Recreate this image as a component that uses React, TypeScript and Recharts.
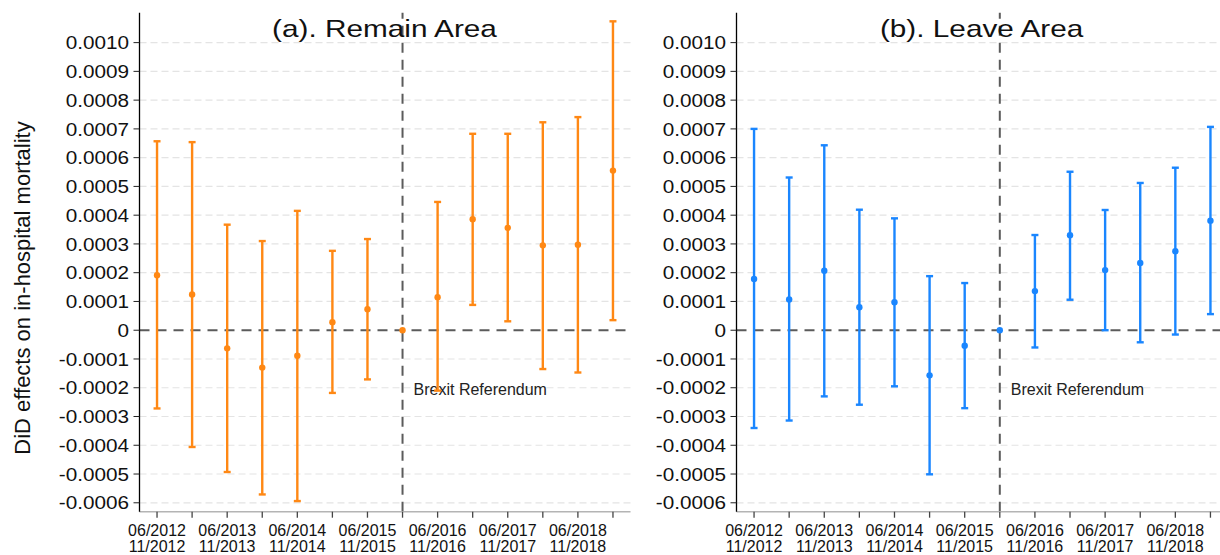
import type { ReactElement } from 'react'
import {
  ErrorBar,
  ReferenceLine,
  Scatter,
  ScatterChart,
  XAxis,
  YAxis,
} from 'recharts'

// period slots along the x axis (slot 8 is the referendum reference)
const POSITIONS = [1, 2, 3, 4, 5, 6, 7, 8, 9, 10, 11, 12, 13, 14]
const REFERENDUM_SLOT = 8

const TICK_TOP = ['06/2012', '', '06/2013', '', '06/2014', '', '06/2015', '', '06/2016', '', '06/2017', '', '06/2018', '']
const TICK_BOTTOM = ['11/2012', '', '11/2013', '', '11/2014', '', '11/2015', '', '11/2016', '', '11/2017', '', '11/2018', '']

const Y_DOMAIN: [number, number] = [-0.000631, 0.001104]
const Y_TICKS = [
  -0.0006, -0.0005, -0.0004, -0.0003, -0.0002, -0.0001, 0, 0.0001, 0.0002, 0.0003,
  0.0004, 0.0005, 0.0006, 0.0007, 0.0008, 0.0009, 0.001,
]

// (a) Remain area
const REMAIN_EST = [0.000191, 0.000124, -0.000063, -0.00013, -0.000089, 0.000028, 0.000073, 0, 0.000115, 0.000386, 0.000356, 0.000295, 0.000297, 0.000555]
const REMAIN_LO = [-0.000272, -0.000406, -0.000493, -0.000571, -0.000594, -0.000218, -0.000171, null, -0.00021, 0.000088, 0.000031, -0.000135, -0.000147, 0.000035]
const REMAIN_HI = [0.000657, 0.000654, 0.000367, 0.00031, 0.000415, 0.000276, 0.000317, null, 0.000446, 0.000683, 0.000683, 0.000723, 0.000741, 0.001074]

// (b) Leave area
const LEAVE_EST = [0.000178, 0.000107, 0.000207, 0.00008, 0.000097, -0.000157, -0.000054, 0, 0.000136, 0.00033, 0.000209, 0.000234, 0.000275, 0.000381]
const LEAVE_LO = [-0.00034, -0.000314, -0.00023, -0.000259, -0.000195, -0.000501, -0.000271, null, -0.00006, 0.000106, 0, -0.000042, -0.000015, 0.000056]
const LEAVE_HI = [0.0007, 0.000531, 0.000643, 0.000419, 0.000389, 0.000188, 0.000164, null, 0.000331, 0.000551, 0.000418, 0.000512, 0.000565, 0.000707]

const FONT = '"Liberation Sans", Arial, sans-serif'
const REF_GRAY = '#5b5b5b'

type Row = { x: number; y: number; err: [number, number] | null }

function buildRows(est: number[], lo: (number | null)[], hi: (number | null)[]): Row[] {
  return POSITIONS.map((x, i) => {
    const low = lo[i]
    const high = hi[i]
    return {
      x,
      y: est[i],
      err: low == null || high == null ? null : [est[i] - low, high - est[i]],
    }
  })
}

function formatY(value: number): string {
  return value === 0 ? '0' : value.toFixed(4)
}

function YTick(props: any) {
  const { x, y, payload } = props
  return (
    <g transform={`translate(${x},${y})`}>
      <text
        transform="scale(1.12,1)"
        textAnchor="end"
        dy="0.36em"
        fontSize={18.5}
        fill="#111"
        fontFamily={FONT}
      >
        {formatY(payload.value)}
      </text>
    </g>
  )
}

function XTick(props: any) {
  const { x, y, payload } = props
  const index = POSITIONS.indexOf(payload.value)
  if (index < 0 || !TICK_TOP[index]) return <g />
  return (
    <g>
      <text x={x} y={y + 16.7} textAnchor="middle" fontSize={16} fill="#111" fontFamily={FONT}>
        {TICK_TOP[index]}
      </text>
      <text x={x} y={y + 32.7} textAnchor="middle" fontSize={16} fill="#111" fontFamily={FONT}>
        {TICK_BOTTOM[index]}
      </text>
    </g>
  )
}

function brexitLabel(props: any): ReactElement {
  const vb = props.viewBox ?? { x: 0, y: 0 }
  return (
    <text x={vb.x + 11} y={vb.y + 382.3} fontSize={16} fill="#222" fontFamily={FONT}>
      Brexit Referendum
    </text>
  )
}

interface PanelProps {
  rows: Row[]
  color: string
  left: number
  axisWidth: number
  rightMargin: number
}

function Panel({ rows, color, left, axisWidth, rightMargin }: PanelProps) {
  const ciRows = rows.filter((row) => row.err !== null)
  return (
    <div style={{ position: 'absolute', left, top: 0 }}>
      <ScatterChart
        width={640}
        height={555}
        margin={{ top: 12.7, right: rightMargin, bottom: 0, left: 0 }}
      >
        <XAxis
          type="number"
          dataKey="x"
          domain={[0.5, 14.5]}
          ticks={POSITIONS}
          interval={0}
          height={43.3}
          tickSize={6}
          tickMargin={2}
          axisLine={{ stroke: '#b4b4b4', strokeWidth: 1.4 }}
          tickLine={{ stroke: '#444', strokeWidth: 1.3 }}
          tick={<XTick />}
        />
        <YAxis
          type="number"
          dataKey="y"
          domain={Y_DOMAIN}
          allowDataOverflow
          ticks={Y_TICKS}
          interval={0}
          width={axisWidth}
          tickSize={6}
          tickMargin={4.5}
          axisLine={{ stroke: '#000', strokeWidth: 1.3 }}
          tickLine={{ stroke: '#222', strokeWidth: 1 }}
          tick={<YTick />}
        />
        {/* light dashed gridlines on the labelled ticks */}
        {Y_TICKS.filter((t) => t !== 0).map((t) => (
          <ReferenceLine
            key={t}
            y={t}
            stroke="#e4e4e4"
            strokeWidth={1.2}
            strokeDasharray="7 4"
          />
        ))}
        <ReferenceLine y={0} stroke={REF_GRAY} strokeWidth={2} strokeDasharray="10 7" />
        <ReferenceLine
          x={REFERENDUM_SLOT}
          stroke={REF_GRAY}
          strokeWidth={2}
          strokeDasharray="10 7"
          label={brexitLabel}
        />
        <Scatter
          data={ciRows}
          isAnimationActive={false}
          shape={() => <g />}
        >
          <ErrorBar
            dataKey="err"
            direction="y"
            width={3.5}
            stroke={color}
            strokeWidth={2.4}
            isAnimationActive={false}
          />
        </Scatter>
        <Scatter
          data={rows}
          isAnimationActive={false}
          shape={(p: any) => <circle cx={p.cx} cy={p.cy} r={3.2} fill={color} />}
        />
      </ScatterChart>
    </div>
  )
}

export default function App() {
  const remainRows = buildRows(REMAIN_EST, REMAIN_LO, REMAIN_HI)
  const leaveRows = buildRows(LEAVE_EST, LEAVE_LO, LEAVE_HI)

  return (
    <div
      style={{
        position: 'absolute',
        left: 0,
        top: 0,
        width: 1220,
        height: 555,
        overflow: 'hidden',
        background: '#fff',
        fontFamily: FONT,
      }}
    >
      <Panel rows={remainRows} color="#ff8814" left={0} axisWidth={139.5} rightMargin={9.5} />
      <Panel rows={leaveRows} color="#1a86ff" left={600} axisWidth={136.5} rightMargin={12} />
      <svg
        width={1220}
        height={555}
        style={{ position: 'absolute', left: 0, top: 0, pointerEvents: 'none' }}
      >
        <text
          transform="translate(384.5,36.7) scale(1.24,1)"
          textAnchor="middle"
          fontSize={24}
          fill="#111"
          fontFamily={FONT}
        >
          (a). Remain Area
        </text>
        <text
          transform="translate(981.6,36.7) scale(1.24,1)"
          textAnchor="middle"
          fontSize={24}
          fill="#111"
          fontFamily={FONT}
        >
          (b). Leave Area
        </text>
        <text
          transform="translate(29.7,288) rotate(-90)"
          textAnchor="middle"
          fontSize={22}
          fill="#111"
          fontFamily={FONT}
        >
          DiD effects on in-hospital mortality
        </text>
      </svg>
    </div>
  )
}
